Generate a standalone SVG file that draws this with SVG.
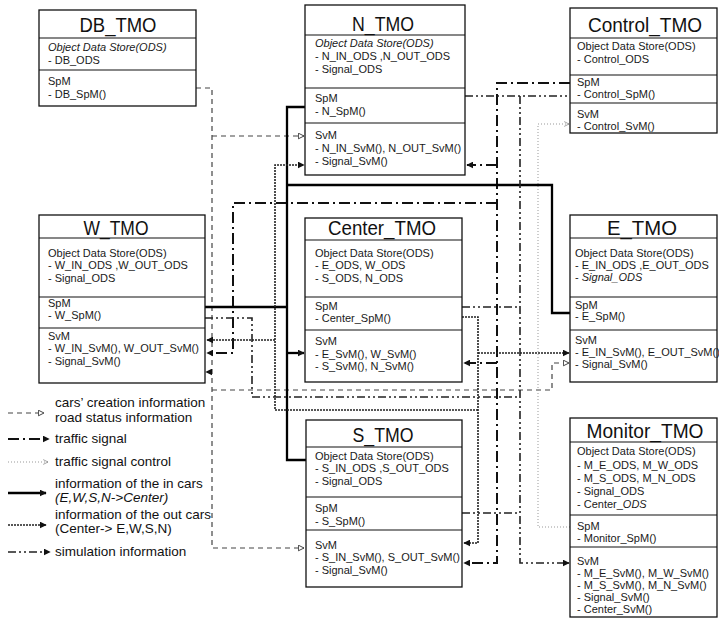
<svg xmlns="http://www.w3.org/2000/svg" width="719" height="620" viewBox="0 0 719 620">
<defs>
<style>
.box{fill:#fff;stroke:#111;stroke-width:1.3}
.div{stroke:#111;stroke-width:1.2}
.title{font-family:"Liberation Sans",Arial,sans-serif;font-size:20px;fill:#111;text-anchor:middle}
.t{font-family:"Liberation Sans",Arial,sans-serif;font-size:11px;fill:#1a1a1a}
.it{font-style:italic}
.lg{font-family:"Liberation Sans",Arial,sans-serif;font-size:13.5px;fill:#111}
.cc{fill:none;stroke:#444;stroke-width:1.2;stroke-dasharray:5 4}
.ts{fill:none;stroke:#111;stroke-width:2;stroke-dasharray:11 4 2 4}
.sc{fill:none;stroke:#999;stroke-width:1;stroke-dasharray:1 2}
.ic{fill:none;stroke:#000;stroke-width:2.3}
.oc{fill:none;stroke:#222;stroke-width:1.6;stroke-dasharray:2 1}
.si{fill:none;stroke:#222;stroke-width:1.6;stroke-dasharray:8 3 2 3 2 3}
</style>
<marker id="af" viewBox="0 0 10 10" refX="9" refY="5" markerWidth="7" markerHeight="7" markerUnits="userSpaceOnUse" orient="auto"><path d="M0,0 L10,5 L0,10 z" fill="#111"/></marker>
<marker id="ao" viewBox="0 0 10 10" refX="9" refY="5" markerWidth="7" markerHeight="7" markerUnits="userSpaceOnUse" orient="auto"><path d="M1,1 L9,5 L1,9 z" fill="#fff" stroke="#333" stroke-width="1.3"/></marker>
<marker id="as" viewBox="0 0 10 10" refX="9" refY="5" markerWidth="6" markerHeight="6" markerUnits="userSpaceOnUse" orient="auto"><path d="M1,1 L9,5 L1,9" fill="none" stroke="#888" stroke-width="1.3"/></marker>
</defs>
<rect width="719" height="620" fill="#fff"/>

<g id="connectors">
<!-- cars' creation / road status -->
<path class="cc" d="M196,88 H212 V548 H304" marker-end="url(#ao)"/>
<path class="cc" d="M212,136 H304" marker-end="url(#ao)"/>
<path class="cc" d="M212,390 H552 V363 H569" marker-end="url(#ao)"/>
<path class="cc" d="M212,372 H206" marker-end="url(#af)"/>
<!-- traffic signal -->
<path class="ts" d="M570,83 H497 V563 H464" marker-end="url(#af)"/>
<path class="ts" d="M497,165 H467" marker-end="url(#af)"/>
<path class="ts" d="M497,203 H233 V353 H207" marker-end="url(#af)"/>
<path class="ts" d="M497,363 H464" marker-end="url(#af)"/>
<!-- traffic signal control -->
<path class="sc" d="M570,527 H538 V124 H569" marker-end="url(#as)"/>
<!-- in cars -->
<path class="ic" d="M305,107 H287 V460 H306"/>
<path class="ic" d="M287,353 H304" marker-end="url(#af)"/>
<path class="ic" d="M205,307 H287"/>
<path class="ic" d="M570,313 H552 V185 H287"/>
<!-- out cars -->
<path class="oc" d="M462,317 H478 V543 H464" marker-end="url(#af)"/>
<path class="oc" d="M478,353 H569" marker-end="url(#af)"/>
<path class="oc" d="M478,410 H275 V165 H304" marker-end="url(#af)"/>
<path class="oc" d="M275,340 H207" marker-end="url(#af)"/>
<!-- simulation information -->
<path class="si" d="M465,96 H570"/>
<path class="si" d="M520,96 V563 H569" marker-end="url(#af)"/>
<path class="si" d="M462,307 H520"/>
<path class="si" d="M462,513 H520"/>
<path class="si" d="M205,318 H252 V397 H520"/>
</g>

<g id="DB_TMO">
<rect class="box" x="39" y="10" width="157" height="96"/>
<line class="div" x1="39" y1="38" x2="196" y2="38"/>
<line class="div" x1="39" y1="70" x2="196" y2="70"/>
<text class="title" x="118" y="32" textLength="77" lengthAdjust="spacingAndGlyphs">DB_TMO</text>
<text class="t it" x="48" y="51">Object Data Store(ODS)</text>
<text class="t" x="48" y="64">- DB_ODS</text>
<text class="t" x="48" y="85">SpM</text>
<text class="t" x="48" y="98">- DB_SpM()</text>
</g>

<g id="N_TMO">
<rect class="box" x="305" y="5" width="160" height="170"/>
<line class="div" x1="305" y1="35" x2="465" y2="35"/>
<line class="div" x1="305" y1="88" x2="465" y2="88"/>
<line class="div" x1="305" y1="123" x2="465" y2="123"/>
<text class="title" x="383" y="31" textLength="62" lengthAdjust="spacingAndGlyphs">N_TMO</text>
<text class="t it" x="315" y="47">Object Data Store(ODS)</text>
<text class="t" x="315" y="60">- N_IN_ODS ,N_OUT_ODS</text>
<text class="t" x="315" y="73">- Signal_ODS</text>
<text class="t" x="315" y="102">SpM</text>
<text class="t" x="315" y="115">- N_SpM()</text>
<text class="t" x="315" y="139">SvM</text>
<text class="t" x="315" y="152">- N_IN_SvM(), N_OUT_SvM()</text>
<text class="t" x="315" y="165">- Signal_SvM()</text>
</g>

<g id="Control_TMO">
<rect class="box" x="570" y="8" width="147" height="125"/>
<line class="div" x1="570" y1="38" x2="717" y2="38"/>
<line class="div" x1="570" y1="75" x2="717" y2="75"/>
<line class="div" x1="570" y1="103" x2="717" y2="103"/>
<text class="title" x="645" y="32" textLength="114" lengthAdjust="spacingAndGlyphs">Control_TMO</text>
<text class="t" x="577" y="50">Object Data Store(ODS)</text>
<text class="t" x="577" y="63">- Control_ODS</text>
<text class="t" x="577" y="86">SpM</text>
<text class="t" x="577" y="98">- Control_SpM()</text>
<text class="t" x="577" y="118">SvM</text>
<text class="t" x="577" y="130">- Control_SvM()</text>
</g>

<g id="W_TMO">
<rect class="box" x="39" y="215" width="166" height="168"/>
<line class="div" x1="39" y1="238" x2="205" y2="238"/>
<line class="div" x1="39" y1="297" x2="205" y2="297"/>
<line class="div" x1="39" y1="328" x2="205" y2="328"/>
<text class="title" x="116" y="235" textLength="65" lengthAdjust="spacingAndGlyphs">W_TMO</text>
<text class="t" x="48" y="257">Object Data Store(ODS)</text>
<text class="t" x="48" y="269">- W_IN_ODS ,W_OUT_ODS</text>
<text class="t" x="48" y="282">- Signal_ODS</text>
<text class="t" x="48" y="307">SpM</text>
<text class="t" x="48" y="319">- W_SpM()</text>
<text class="t" x="48" y="340">SvM</text>
<text class="t" x="48" y="352">- W_IN_SvM(), W_OUT_SvM()</text>
<text class="t" x="48" y="365">- Signal_SvM()</text>
</g>

<g id="Center_TMO">
<rect class="box" x="305" y="218" width="157" height="164"/>
<line class="div" x1="305" y1="240" x2="462" y2="240"/>
<line class="div" x1="305" y1="297" x2="462" y2="297"/>
<line class="div" x1="305" y1="330" x2="462" y2="330"/>
<text class="title" x="382" y="235" textLength="108" lengthAdjust="spacingAndGlyphs">Center_TMO</text>
<text class="t" x="315" y="257">Object Data Store(ODS)</text>
<text class="t" x="315" y="269">- E_ODS, W_ODS</text>
<text class="t" x="315" y="282">- S_ODS, N_ODS</text>
<text class="t" x="315" y="310">SpM</text>
<text class="t" x="315" y="322">- Center_SpM()</text>
<text class="t" x="315" y="345">SvM</text>
<text class="t" x="315" y="358">- E_SvM(), W_SvM()</text>
<text class="t" x="315" y="370">- S_SvM(), N_SvM()</text>
</g>

<g id="E_TMO">
<rect class="box" x="570" y="215" width="147" height="167"/>
<line class="div" x1="570" y1="238" x2="717" y2="238"/>
<line class="div" x1="570" y1="297" x2="717" y2="297"/>
<line class="div" x1="570" y1="330" x2="717" y2="330"/>
<text class="title" x="642" y="235" textLength="70" lengthAdjust="spacingAndGlyphs">E_TMO</text>
<text class="t" x="575" y="257">Object Data Store(ODS)</text>
<text class="t" x="575" y="269">- E_IN_ODS ,E_OUT_ODS</text>
<text class="t" x="575" y="281">- <tspan class="it">Signal_ODS</tspan></text>
<text class="t" x="575" y="309">SpM</text>
<text class="t" x="575" y="320">- E_SpM()</text>
<text class="t" x="575" y="344">SvM</text>
<text class="t" x="575" y="356">- E_IN_SvM(), E_OUT_SvM()</text>
<text class="t" x="575" y="368">- Signal_SvM()</text>
</g>

<g id="S_TMO">
<rect class="box" x="306" y="420" width="156" height="167"/>
<line class="div" x1="306" y1="447" x2="462" y2="447"/>
<line class="div" x1="306" y1="497" x2="462" y2="497"/>
<line class="div" x1="306" y1="530" x2="462" y2="530"/>
<text class="title" x="383" y="442" textLength="61" lengthAdjust="spacingAndGlyphs">S_TMO</text>
<text class="t" x="315" y="460">Object Data Store(ODS)</text>
<text class="t" x="315" y="472">- S_IN_ODS ,S_OUT_ODS</text>
<text class="t" x="315" y="485">- Signal_ODS</text>
<text class="t" x="315" y="512">SpM</text>
<text class="t" x="315" y="525">- S_SpM()</text>
<text class="t" x="315" y="549">SvM</text>
<text class="t" x="315" y="561">- S_IN_SvM(), S_OUT_SvM()</text>
<text class="t" x="315" y="574">- Signal_SvM()</text>
</g>

<g id="Monitor_TMO">
<rect class="box" x="570" y="418" width="147" height="199"/>
<line class="div" x1="570" y1="442" x2="717" y2="442"/>
<line class="div" x1="570" y1="515" x2="717" y2="515"/>
<line class="div" x1="570" y1="547" x2="717" y2="547"/>
<text class="title" x="645" y="438" textLength="117" lengthAdjust="spacingAndGlyphs">Monitor_TMO</text>
<text class="t" x="577" y="455">Object Data Store(ODS)</text>
<text class="t" x="577" y="469">- M_E_ODS, M_W_ODS</text>
<text class="t" x="577" y="482">- M_S_ODS, M_N_ODS</text>
<text class="t" x="577" y="495">- Signal_ODS</text>
<text class="t" x="577" y="508">- Center_<tspan class="it">ODS</tspan></text>
<text class="t" x="577" y="530">SpM</text>
<text class="t" x="577" y="542">- Monitor_SpM()</text>
<text class="t" x="577" y="565">SvM</text>
<text class="t" x="577" y="577">- M_E_SvM(), M_W_SvM()</text>
<text class="t" x="577" y="589">- M_S_SvM(), M_N_SvM()</text>
<text class="t" x="577" y="601">- Signal_SvM()</text>
<text class="t" x="577" y="613">- Center_SvM()</text>
</g>

<g id="legend">
<path class="cc" d="M8,413 H44" marker-end="url(#ao)"/>
<path class="ts" d="M8,439 H49" marker-end="url(#af)"/>
<path class="sc" d="M8,462 H48" marker-end="url(#as)"/>
<path class="ic" d="M8,493 H46" marker-end="url(#af)"/>
<path class="oc" d="M8,525 H46" marker-end="url(#af)"/>
<path class="si" d="M8,552 H50" marker-end="url(#af)"/>
<text class="lg" x="55" y="407">cars’ creation information</text>
<text class="lg" x="55" y="422">road status information</text>
<text class="lg" x="55" y="443">traffic signal</text>
<text class="lg" x="55" y="466">traffic signal control</text>
<text class="lg" x="55" y="488">information of the in cars</text>
<text class="lg" x="55" y="502"><tspan class="it">(E,W,S,N-&gt;Center)</tspan></text>
<text class="lg" x="55" y="519">information of the out cars</text>
<text class="lg" x="55" y="533">(Center-&gt; E,W,S,N)</text>
<text class="lg" x="55" y="556">simulation information</text>
</g>
</svg>
